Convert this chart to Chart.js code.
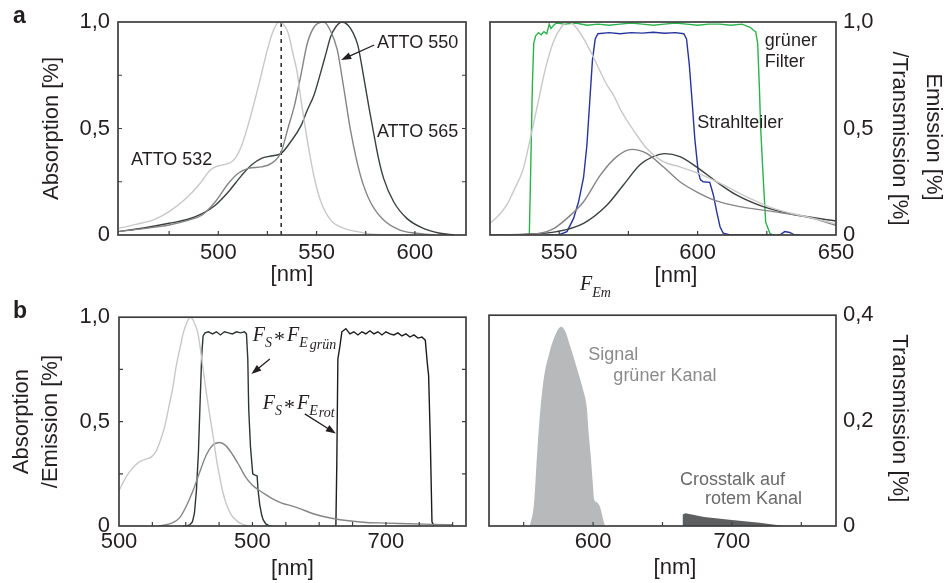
<!DOCTYPE html>
<html><head><meta charset="utf-8">
<script src="https://cdn.jsdelivr.net/npm/chart.js@4/dist/chart.umd.min.js"></script>
<style>
html,body{margin:0;padding:0;background:#fff;}
#wrap{position:relative;width:946px;height:583px;overflow:hidden;background:#fff;}
canvas{position:absolute;}
</style></head>
<body><div id="wrap">
<canvas id="a1" width="480" height="295" style="left:0;top:0"></canvas>
<canvas id="a2" width="466" height="300" style="left:480px;top:0"></canvas>
<canvas id="b1" width="480" height="288" style="left:0;top:295px"></canvas>
<canvas id="b2" width="466" height="288" style="left:480px;top:295px"></canvas>
</div>
<script>
// ---------- Panel a (left): absorption spectra ----------
const abs532Nm = [449, 458, 466.6, 475, 483.4, 490.1, 496, 500.2, 505.2, 508.6, 511.9, 515.3, 518.5, 521, 525, 528, 531, 533, 535.5, 538, 540, 541.5, 543.8, 546.3, 548.8, 552.2, 557.2, 564, 570.6, 580.7, 600];
const abs532Val = [0.031, 0.05, 0.07, 0.11, 0.17, 0.235, 0.305, 0.325, 0.336, 0.36, 0.42, 0.52, 0.63, 0.72, 0.87, 0.96, 1.0, 0.99, 0.95, 0.85, 0.77, 0.67, 0.53, 0.39, 0.27, 0.156, 0.07, 0.031, 0.016, 0.003, 0];
const abs550Nm = [449, 462, 475, 485, 491.8, 498.5, 505.2, 510.2, 515.3, 522, 527, 532, 535.4, 538.8, 542, 545.3, 549, 553.7, 557, 560.5, 564, 567.3, 572.3, 577.3, 584.1, 592.4, 600.8, 610];
const abs550Val = [0.016, 0.03, 0.047, 0.07, 0.094, 0.156, 0.243, 0.29, 0.313, 0.32, 0.336, 0.39, 0.50, 0.61, 0.75, 0.90, 0.98, 1.0, 0.96, 0.87, 0.68, 0.49, 0.28, 0.156, 0.07, 0.023, 0.008, 0];
const abs565Nm = [449, 462, 475, 485, 491.8, 498.5, 505.2, 511.9, 517, 522, 527, 532, 537, 541.9, 545, 548.8, 552, 555, 557.1, 560, 563, 566, 568.5, 571, 574, 577, 579.2, 581.5, 584.1, 589.2, 595.9, 604.3, 612.8, 620];
const abs565Val = [0.016, 0.033, 0.055, 0.075, 0.10, 0.14, 0.203, 0.28, 0.33, 0.36, 0.371, 0.383, 0.44, 0.51, 0.58, 0.66, 0.76, 0.86, 0.93, 0.98, 1.0, 0.985, 0.95, 0.89, 0.74, 0.58, 0.47, 0.36, 0.266, 0.156, 0.078, 0.031, 0.008, 0];
const laserNm = [532, 532];
const laserVal = [0, 1];
const a1XTicks = [475, 500, 525, 550, 575, 600];
const a1XLabels = ['', '500', '', '550', '', '600'];
const a1YTicks = [0, 0.25, 0.5, 0.75, 1];
const a1YLabels = ['0', '', '0,5', '', '1,0'];

// ---------- Panel a (right): emission + filters ----------
const em532Nm = [525, 528, 531, 534, 537, 539, 542, 545, 548, 551, 553, 555, 558, 561, 564, 567, 569.6, 572.5, 575.6, 578.5, 581.6, 587.6, 593.6, 602, 609.3, 618.9, 627.3, 639.3, 650];
const em532Val = [0.055, 0.09, 0.14, 0.22, 0.31, 0.42, 0.6, 0.78, 0.91, 0.98, 1.0, 0.99, 0.94, 0.87, 0.79, 0.71, 0.657, 0.58, 0.516, 0.46, 0.407, 0.344, 0.32, 0.28, 0.235, 0.172, 0.125, 0.086, 0.052];
const em550Nm = [525, 535, 543.1, 548, 552.8, 558.8, 564.8, 570.8, 576.2, 581.6, 587.6, 593.6, 599.6, 606.8, 615.3, 627.3, 639.3, 650];
const em550Val = [0, 0.002, 0.008, 0.03, 0.078, 0.156, 0.28, 0.368, 0.402, 0.383, 0.32, 0.25, 0.203, 0.16, 0.133, 0.11, 0.085, 0.046];
const em565Nm = [525, 537.1, 549.2, 558.8, 567.2, 573.2, 579.2, 584, 588.2, 593.6, 599.6, 606.8, 614, 623.7, 633.3, 650];
const em565Val = [0, 0.003, 0.016, 0.055, 0.14, 0.235, 0.33, 0.368, 0.382, 0.368, 0.32, 0.25, 0.188, 0.133, 0.10, 0.066];
const greenNm = [535, 539.2, 539.7, 540.3, 540.8, 541.5, 542.5, 543.5, 544.5, 545.5, 546.4, 547, 548, 549, 552, 556, 560, 564, 568, 572, 576, 580, 584, 588, 592, 596, 600, 604, 608, 612, 616, 619, 620.3, 621, 621.7, 622.3, 622.8, 623.7, 624.6, 626.1, 627.3, 630];
const greenVal = [0, 0, 0.3, 0.7, 0.9, 0.935, 0.95, 0.94, 0.955, 0.945, 0.99, 0.97, 0.985, 0.995, 0.99, 0.995, 0.985, 0.99, 0.985, 0.99, 0.995, 0.99, 0.985, 0.99, 0.995, 0.99, 0.985, 0.99, 0.99, 0.985, 0.99, 0.975, 0.96, 0.955, 0.9, 0.7, 0.5, 0.27, 0.06, 0.008, 0, 0];
const splitNm = [545, 549.8, 552.8, 555.2, 557, 558.8, 560, 561, 562, 563, 564, 568, 572, 576, 580, 584, 588, 592, 595, 596, 597, 598, 599, 600.2, 601, 602, 604.4, 605.7, 606.9, 608.1, 609.3, 611.7, 629.7, 631.5, 633.3, 635.1, 637];
const splitVal = [0, 0, 0.016, 0.078, 0.156, 0.27, 0.42, 0.62, 0.82, 0.92, 0.945, 0.95, 0.945, 0.95, 0.948, 0.952, 0.947, 0.95, 0.945, 0.92, 0.8, 0.63, 0.45, 0.30, 0.26, 0.25, 0.247, 0.188, 0.11, 0.039, 0.008, 0, 0, 0.016, 0.012, 0, 0];
const a2XTicks = [550, 575, 600, 625, 650];
const a2XLabels = ['550', '', '600', '', '650'];
const a2YTicks = [0, 0.5, 1];
const a2YLabels = ['0', '0,5', '1,0'];

// ---------- Panel b (left) ----------
const bAbsNm = [500, 504, 508, 512, 516, 520, 524, 528, 531, 534, 537, 540.5, 543, 546, 548, 550.5, 553.5, 556, 559.2, 562, 565.4, 568, 570.5, 572.9, 575, 577.5, 580.4, 584, 587.8, 592, 597];
const bAbsVal = [0.17, 0.22, 0.26, 0.29, 0.31, 0.32, 0.33, 0.36, 0.41, 0.47, 0.56, 0.67, 0.77, 0.86, 0.92, 0.97, 1.0, 0.98, 0.92, 0.80, 0.64, 0.53, 0.43, 0.325, 0.25, 0.17, 0.105, 0.055, 0.027, 0.01, 0];
const bEmNm = [530, 540, 545.5, 550, 555.5, 560, 565.4, 570, 575.4, 580, 585.3, 590, 595.3, 600, 605.2, 610, 615.1, 622, 630, 635.5, 647.5, 660.4, 672, 685.5, 700, 710.5, 735.4, 750];
const bEmVal = [0, 0.015, 0.04, 0.09, 0.17, 0.25, 0.34, 0.385, 0.40, 0.385, 0.34, 0.29, 0.23, 0.195, 0.17, 0.15, 0.13, 0.11, 0.095, 0.083, 0.055, 0.036, 0.025, 0.017, 0.014, 0.012, 0.008, 0.006];
const bGreenNm = [548, 550.5, 553, 555, 556.5, 558, 559.5, 560.8, 562, 563, 564.5, 567, 570, 573, 576, 579, 582, 585, 588, 591, 594, 595.5, 596.5, 597.2, 598.5, 600.2, 601.5, 603.5, 604.2, 605.5, 607, 608, 610, 613, 615];
const bGreenVal = [0, 0, 0.005, 0.02, 0.06, 0.17, 0.35, 0.6, 0.82, 0.91, 0.925, 0.93, 0.92, 0.93, 0.915, 0.93, 0.925, 0.92, 0.93, 0.925, 0.93, 0.92, 0.8, 0.56, 0.38, 0.25, 0.245, 0.24, 0.17, 0.1, 0.05, 0.03, 0.01, 0, 0];
const bRedNm = [662.5, 663.2, 664, 665.5, 667, 670, 673, 676, 679, 682, 685, 688, 691, 694, 697, 700, 703, 706, 709, 712, 715, 718, 721, 724, 727, 729.5, 731, 732, 733.3, 734.5, 736];
const bRedVal = [0, 0.3, 0.8, 0.86, 0.93, 0.945, 0.92, 0.93, 0.915, 0.93, 0.92, 0.935, 0.92, 0.93, 0.915, 0.93, 0.92, 0.915, 0.925, 0.91, 0.92, 0.905, 0.915, 0.90, 0.905, 0.89, 0.78, 0.72, 0.40, 0.02, 0];
const b1XTicks = [500, 525, 550, 575, 600, 625, 650, 675, 700, 725, 750];
const b1XLabels = ['500', '', '', '', '500', '', '', '', '700', '', ''];
const b1YTicks = [0, 0.25, 0.5, 0.75, 1];
const b1YLabels = ['0', '', '0,5', '', '1,0'];

// ---------- Panel b (right) ----------
const signalNm = [554.5, 557.4, 559.8, 562.1, 564.5, 568.1, 571.7, 575.2, 576.9, 580, 583.6, 588.4, 593.1, 595.5, 596.7, 598.4, 599.8, 600.7, 602.6, 605, 607.4, 608.6];
const signalVal = [0, 0.042, 0.143, 0.224, 0.281, 0.325, 0.356, 0.375, 0.378, 0.369, 0.34, 0.299, 0.255, 0.224, 0.18, 0.13, 0.08, 0.051, 0.045, 0.036, 0.011, 0];
const crossNm = [664.1, 664.6, 666.5, 680, 700, 720, 735, 736];
const crossVal = [0, 0.022, 0.024, 0.017, 0.0115, 0.006, 0.001, 0];
const b2XTicks = [550, 600, 650, 700, 750];
const b2XLabels = ['', '600', '', '700', ''];
const b2YTicks = [0, 0.2, 0.4];
const b2YLabels = ['0', '0,2', '0,4'];

// ---------- styling ----------
const FONT = "'Liberation Sans', Arial, Helvetica, sans-serif";
const SERIF = "'Liberation Serif', 'Times New Roman', serif";
const C_LIGHT = '#c8c8c8', C_MID = '#858585', C_DARK = '#3c4040';
Chart.defaults.font.family = FONT;
Chart.defaults.font.size = 22;
Chart.defaults.color = '#231f20';

function pts(xs, ys) { return xs.map((x, i) => ({x: x, y: ys[i]})); }
function smooth(xs, ys, color, extra) {
  return Object.assign({data: pts(xs, ys), borderColor: color, borderWidth: 1.4, pointRadius: 0, fill: false, cubicInterpolationMode: 'monotone'}, extra || {});
}
function sharp(xs, ys, color, extra) {
  return Object.assign({data: pts(xs, ys), borderColor: color, borderWidth: 1.4, pointRadius: 0, fill: false, tension: 0}, extra || {});
}
function xAxis(min, max, tv, tl, height, pad, title) {
  return {
    type: 'linear', position: 'bottom', min: min, max: max,
    grid: {display: false, drawTicks: false}, border: {display: false},
    afterBuildTicks: s => { s.ticks = tv.map(v => ({value: v})); },
    afterFit: s => { s.height = height; },
    ticks: {autoSkip: false, maxRotation: 0, padding: pad, callback: (v, i) => tl[i]},
    title: title || {display: false}
  };
}
function yAxis(pos, min, max, tv, tl, width, pad, title) {
  return {
    type: 'linear', position: pos, min: min, max: max,
    grid: {display: false, drawTicks: false}, border: {display: false},
    afterBuildTicks: s => { s.ticks = tv.map(v => ({value: v})); },
    afterFit: s => { s.width = width; },
    ticks: {autoSkip: false, padding: pad, callback: (v, i) => tl[i]},
    title: title || {display: false}
  };
}

const framePlugin = {
  id: 'frame',
  afterDatasetsDraw(chart, args, o) {
    const ctx = chart.ctx, a = chart.chartArea, xs = chart.scales.x, ys = chart.scales.y;
    ctx.save();
    ctx.strokeStyle = '#3e3e3e';
    ctx.lineWidth = 1.7;
    ctx.strokeRect(a.left, a.top, a.right - a.left, a.bottom - a.top);
    ctx.lineWidth = 1.2;
    const L = 4;
    ctx.beginPath();
    xs.ticks.forEach(t => {
      const p = xs.getPixelForValue(t.value);
      if (p <= a.left + 1 || p >= a.right - 1) return;
      ctx.moveTo(p, a.bottom); ctx.lineTo(p, a.bottom - L);
    });
    if (o.yTicks) ys.ticks.forEach(t => {
      const p = ys.getPixelForValue(t.value);
      if (p <= a.top + 1 || p >= a.bottom - 1) return;
      ctx.moveTo(a.left, p); ctx.lineTo(a.left + L, p);
      ctx.moveTo(a.right, p); ctx.lineTo(a.right - L, p);
    });
    ctx.stroke();
    ctx.restore();
  }
};

const annotPlugin = {
  id: 'annot',
  afterDraw(chart, args, o) {
    const ctx = chart.ctx, sx = chart.scales.x, sy = chart.scales.y;
    (o.items || []).forEach(it => {
      ctx.save();
      ctx.fillStyle = ctx.strokeStyle = it.color || '#231f20';
      if (it.arrow) {
        const x1 = sx.getPixelForValue(it.arrow[0][0]), y1 = sy.getPixelForValue(it.arrow[0][1]);
        const x2 = sx.getPixelForValue(it.arrow[1][0]), y2 = sy.getPixelForValue(it.arrow[1][1]);
        const ang = Math.atan2(y2 - y1, x2 - x1), L = 10, W = 3.6;
        const c = Math.cos(ang), s = Math.sin(ang);
        ctx.lineWidth = 1.3;
        ctx.beginPath(); ctx.moveTo(x1, y1); ctx.lineTo(x2 - 8 * c, y2 - 8 * s); ctx.stroke();
        ctx.beginPath(); ctx.moveTo(x2, y2);
        ctx.lineTo(x2 - L * c + W * s, y2 - L * s - W * c);
        ctx.lineTo(x2 - L * c - W * s, y2 - L * s + W * c);
        ctx.closePath(); ctx.fill();
      } else {
        const x = it.xv !== undefined ? sx.getPixelForValue(it.xv) : it.px;
        const y = it.yv !== undefined ? sy.getPixelForValue(it.yv) : it.py;
        ctx.translate(x, y);
        if (it.rot) ctx.rotate(it.rot);
        ctx.textAlign = it.align || 'left';
        ctx.textBaseline = it.base || 'alphabetic';
        const runs = it.runs || [{t: it.text, font: it.font}];
        let cx = 0;
        runs.forEach(r => {
          ctx.font = r.font;
          cx += (r.dx || 0);
          ctx.fillText(r.t, cx, r.dy || 0);
          cx += ctx.measureText(r.t).width;
        });
      }
      ctx.restore();
    });
  }
};

const F18 = '18px ' + FONT, F22 = '22px ' + FONT, I20 = 'italic 20px ' + SERIF, I14 = 'italic 14px ' + SERIF, S22 = '22px ' + SERIF;
const base = {responsive: false, animation: false, devicePixelRatio: 1, events: []};
function opts(padding, scales, frame, items) {
  return Object.assign({}, base, {
    layout: {padding: padding},
    plugins: {legend: {display: false}, tooltip: {enabled: false}, frame: frame, annot: {items: items}},
    scales: scales
  });
}

// ----- a left -----
new Chart(document.getElementById('a1'), {
  type: 'line',
  data: {datasets: [
    smooth(abs532Nm, abs532Val, C_LIGHT),
    smooth(abs550Nm, abs550Val, C_MID),
    smooth(abs565Nm, abs565Val, C_DARK),
    sharp(laserNm, laserVal, '#333', {borderDash: [4, 4], borderWidth: 1.6})
  ]},
  options: opts({left: 0, top: 22, right: 14, bottom: 0}, {
    x: xAxis(449, 626, a1XTicks, a1XLabels, 60, 5, {display: true, text: '[nm]', padding: {top: 0, bottom: 7}}),
    y: yAxis('left', 0, 1, a1YTicks, a1YLabels, 118, 8, {display: true, text: 'Absorption [%]', padding: {top: 39, bottom: 0}})
  }, {yTicks: true}, [
    {text: 'a', px: 13, py: 23, font: 'bold 23px ' + FONT},
    {text: 'ATTO 550', xv: 580.7, yv: 0.877, font: F18},
    {text: 'ATTO 565', xv: 580.7, yv: 0.462, font: F18},
    {text: 'ATTO 532', xv: 455.6, yv: 0.329, font: F18},
    {arrow: [[579.3, 0.892], [562.5, 0.822]]}
  ]),
  plugins: [framePlugin, annotPlugin]
});

// ----- a right -----
new Chart(document.getElementById('a2'), {
  type: 'line',
  data: {datasets: [
    smooth(em532Nm, em532Val, C_LIGHT),
    smooth(em550Nm, em550Val, C_MID),
    smooth(em565Nm, em565Val, C_DARK),
    sharp(greenNm, greenVal, '#2bb24c'),
    sharp(splitNm, splitVal, '#26349c')
  ]},
  options: opts({left: 10, top: 22, right: 0, bottom: 0}, {
    x: xAxis(525, 650, a2XTicks, a2XLabels, 65, 5),
    y: yAxis('right', 0, 1, a2YTicks, a2YLabels, 110, 7)
  }, {yTicks: false}, [
    {text: 'grüner', xv: 624.3, yv: 0.885, font: F18},
    {text: 'Filter', xv: 624.3, yv: 0.791, font: F18},
    {text: 'Strahlteiler', xv: 599.9, yv: 0.501, font: F18},
    {text: 'Emission [%]', px: 453.5, py: 137, rot: Math.PI / 2, align: 'center', base: 'middle', font: F22},
    {text: '/Transmission [%]', px: 419, py: 138.5, rot: Math.PI / 2, align: 'center', base: 'middle', font: F22},
    {text: '[nm]', px: 196, py: 276, align: 'center', base: 'middle', font: F22},
    {px: 100, py: 290, runs: [{t: 'F', font: I20}, {t: 'Em', font: I14, dy: 7}]}
  ]),
  plugins: [framePlugin, annotPlugin]
});

// ----- b left -----
new Chart(document.getElementById('b1'), {
  type: 'line',
  data: {datasets: [
    smooth(bAbsNm, bAbsVal, C_LIGHT),
    smooth(bEmNm, bEmVal, C_MID),
    sharp(bGreenNm, bGreenVal, '#2e3434'),
    sharp(bRedNm, bRedVal, '#1c1c1c')
  ]},
  options: opts({left: 0, top: 18, right: 14, bottom: 0}, {
    x: xAxis(500, 760, b1XTicks, b1XLabels, 57, 3, {display: true, text: '[nm]', padding: {top: 0, bottom: 1}}),
    y: yAxis('left', 0, 1, b1YTicks, b1YLabels, 119, 9, {display: true, text: ['Absorption', '/Emission [%]'], font: {size: 22, lineHeight: 1.36}, padding: {top: 6.5, bottom: 0}})
  }, {yTicks: true}, [
    {text: 'b', px: 13, py: 23, font: 'bold 23px ' + FONT},
    {xv: 600.2, yv: 0.887, runs: [{t: 'F', font: I20}, {t: 'S', font: I14, dy: 6}, {t: '*', font: S22, dy: 5, dx: 2}, {t: 'F', font: I20, dx: 2}, {t: 'E', font: I14, dy: 6}, {t: 'grün', font: I14, dy: 8, dx: 2}]},
    {xv: 607.7, yv: 0.559, runs: [{t: 'F', font: I20}, {t: 'S', font: I14, dy: 6}, {t: '*', font: S22, dy: 5, dx: 2}, {t: 'F', font: I20, dx: 2}, {t: 'E', font: I14, dy: 6}, {t: 'rot', font: I14, dy: 8, dx: 1}]},
    {arrow: [[613, 0.80], [599.2, 0.728]]},
    {arrow: [[639.2, 0.537], [662.5, 0.443]]}
  ]),
  plugins: [framePlugin, annotPlugin]
});

// ----- b right -----
new Chart(document.getElementById('b2'), {
  type: 'line',
  data: {datasets: [
    smooth(signalNm, signalVal, '#b8b9bb', {borderWidth: 0, fill: 'origin', backgroundColor: '#b8b9bb'}),
    sharp(crossNm, crossVal, '#5d5e60', {borderWidth: 0, fill: 'origin', backgroundColor: '#5d5e60'})
  ]},
  options: opts({left: 9, top: 18, right: 0, bottom: 0}, {
    x: xAxis(525, 775, b2XTicks, b2XLabels, 57, 3),
    y: yAxis('right', 0, 0.4, b2YTicks, b2YLabels, 110, 7)
  }, {yTicks: false}, [
    {text: 'Signal', xv: 596.5, yv: 0.3145, font: F18, color: '#8a8a8a'},
    {text: 'grüner Kanal', xv: 614.6, yv: 0.2757, font: F18, color: '#8a8a8a'},
    {text: 'Crosstalk auf', xv: 662.6, yv: 0.0785, font: F18, color: '#6a6a6a'},
    {text: 'rotem Kanal', xv: 680.6, yv: 0.042, font: F18, color: '#6a6a6a'},
    {text: 'Transmission [%]', px: 419, py: 123.3, rot: Math.PI / 2, align: 'center', base: 'middle', font: F22},
    {text: '[nm]', px: 195, py: 272.5, align: 'center', base: 'middle', font: F22}
  ]),
  plugins: [framePlugin, annotPlugin]
});
</script>
</body></html>
